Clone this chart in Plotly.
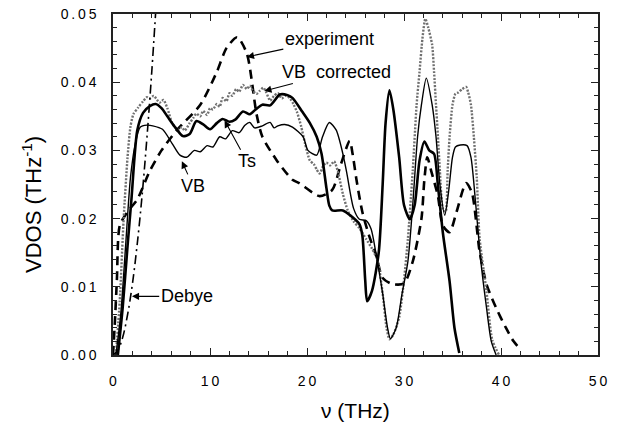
import plotly.graph_objects as go

# ---- data -------------------------------------------------------------
exp_x = [0, 0.2, 0.4, 0.7, 1.5, 2.5, 3.8, 5.0, 6.6, 9.0, 10.7, 11.7, 12.8, 13.8,
         14.8, 15.4, 16.9, 18.5, 19.2, 21.3, 22.6, 23.5, 24.4, 24.7, 25.1, 25.7,
         26.4, 27.1, 27.8, 28.8, 30.0, 30.9, 31.8, 32.1, 32.4, 32.8, 33.5, 34.0,
         34.7, 35.4, 36.4, 37.0, 37.8, 38.5, 39.5, 40.5, 41.3, 42.1]
exp_y = [0, 0.005, 0.011, 0.019, 0.021, 0.0228, 0.027, 0.030, 0.033, 0.0367,
         0.0415, 0.045, 0.0466, 0.0442, 0.0353, 0.032, 0.0285, 0.0257, 0.0252,
         0.0233, 0.0242, 0.028, 0.0314, 0.0295, 0.0257, 0.021, 0.0175, 0.0147,
         0.0113, 0.0104, 0.0105, 0.0137, 0.020, 0.0257, 0.029, 0.027, 0.0233,
         0.019, 0.018, 0.0209, 0.0252, 0.0238, 0.0151, 0.0104, 0.0069, 0.004,
         0.002, 0.0007]

ts_x = [0.5, 1.0, 1.5, 1.9, 2.5, 3.1, 3.8, 4.4, 5.0, 5.6, 6.4, 7.2, 7.9, 8.6,
        9.3, 10.0, 10.7, 11.3, 12.0, 12.6, 13.4, 14.1, 14.7, 15.4, 16.2, 17.2,
        18.0, 18.5, 19.5, 20.3, 21.0, 21.5, 22.0, 22.3, 22.6, 23.7, 24.7, 25.4,
        25.7, 26.0, 26.2, 26.7, 27.4, 27.8, 28.1, 28.5, 28.9, 29.5, 30.0, 30.6,
        31.1, 31.6, 32.1, 32.6, 33.1, 33.5, 34.0, 34.7, 35.2, 35.7]
ts_y = [0, 0.007, 0.016, 0.0228, 0.0329, 0.0355, 0.0365, 0.0368, 0.0362,
        0.035, 0.0334, 0.0321, 0.0324, 0.0343, 0.0338, 0.0331, 0.034, 0.0346,
        0.0342, 0.0345, 0.0357, 0.0353, 0.036, 0.0367, 0.0366, 0.0382, 0.0381,
        0.0377, 0.0357, 0.034, 0.032, 0.0295, 0.0245, 0.0219, 0.0212, 0.0212,
        0.0202, 0.0192, 0.0176, 0.011, 0.0079, 0.0094, 0.0151, 0.025, 0.034,
        0.0388, 0.036, 0.029, 0.022, 0.0199, 0.022, 0.0285, 0.0313, 0.030,
        0.0295, 0.0248, 0.018, 0.0108, 0.004, 0.0003]

vb_x = [0.3, 0.8, 1.3, 1.8, 2.3, 2.8, 3.5, 4.1, 5.1, 6.1, 6.9, 7.6, 8.4, 9.0,
        9.7, 10.3, 11.0, 11.6, 12.3, 13.0, 13.6, 14.1, 14.6, 15.4, 16.2, 16.6,
        17.0, 17.7, 18.5, 19.6, 20.1, 21.0, 21.6, 22.3, 23.0, 23.7, 24.1, 24.8,
        25.4, 26.1, 26.6, 27.1, 27.8, 28.3, 28.6, 29.2, 29.8, 30.4, 30.9, 31.4,
        31.8, 32.3, 32.9, 33.3, 33.7, 34.2, 34.6, 35.0, 35.3, 35.8, 36.5, 36.9,
        37.4, 37.9, 38.5, 39.0, 39.5]
vb_y = [0, 0.006, 0.016, 0.026, 0.031, 0.0334, 0.0337, 0.0336, 0.0331, 0.031,
        0.0293, 0.029, 0.030, 0.0298, 0.0307, 0.0305, 0.032, 0.0317, 0.0329,
        0.0326, 0.0337, 0.0341, 0.0333, 0.0336, 0.0341, 0.0333, 0.0336, 0.0338,
        0.0334, 0.032, 0.030, 0.0293, 0.032, 0.0341, 0.033, 0.0295, 0.0267,
        0.0215, 0.0199, 0.0197, 0.0185, 0.015, 0.009, 0.004, 0.0024, 0.004,
        0.009, 0.0137, 0.022, 0.032, 0.0367, 0.0406, 0.0367, 0.032, 0.025,
        0.0205, 0.024, 0.029, 0.0305, 0.0308, 0.0307, 0.029, 0.022, 0.014,
        0.007, 0.002, 0]

vbc_x = [0.3, 0.7, 1.1, 1.5, 1.8, 2.1, 2.6, 3.1, 3.5, 3.8, 4.2, 4.8, 5.2, 5.6,
         6.1, 6.7, 7.1, 7.4, 7.9, 8.3, 8.6, 9.0, 9.3, 9.7, 10.0, 10.3, 10.7,
         11.0, 11.3, 11.7, 12.0, 12.3, 12.7, 13.0, 13.4, 13.8, 14.1, 14.4, 14.8,
         15.1, 15.5, 15.8, 16.2, 16.6, 17.0, 17.4, 17.8, 18.2, 18.6, 19.0, 19.4,
         19.8, 20.3, 20.7, 21.0, 21.3, 21.7, 22.0, 22.4, 22.8, 23.2, 23.7, 24.2,
         24.8, 25.4, 26.1, 26.7, 27.3, 27.8, 28.2, 28.5, 28.9, 29.5, 30.0, 30.4,
         30.9, 31.3, 31.6, 31.9, 32.2, 32.5, 32.9, 33.1, 33.3, 33.5, 33.7, 34.0,
         34.3, 34.5, 34.7, 35.0, 35.3, 35.6, 36.0, 36.4, 36.6, 36.9, 37.2, 37.5,
         37.8, 38.5, 39.1, 39.8]
vbc_y = [0, 0.008, 0.020, 0.029, 0.0335, 0.0353, 0.0363, 0.0372, 0.0378,
         0.0376, 0.0380, 0.0370, 0.0374, 0.0362, 0.0340, 0.0330, 0.0334, 0.0329,
         0.0340, 0.0348, 0.0354, 0.0350, 0.0358, 0.0352, 0.0362, 0.0360, 0.0368,
         0.0364, 0.0377, 0.0372, 0.0384, 0.0380, 0.0390, 0.0386, 0.0396, 0.0390,
         0.0395, 0.0388, 0.0383, 0.0387, 0.0392, 0.0385, 0.0373, 0.0380, 0.0384,
         0.0376, 0.0380, 0.0377, 0.0368, 0.0355, 0.0335, 0.031, 0.0285, 0.0280,
         0.0272, 0.0266, 0.0278, 0.0282, 0.0278, 0.0284, 0.0268, 0.0236, 0.0212,
         0.0196, 0.0186, 0.0170, 0.0156, 0.0138, 0.0090, 0.0040, 0.0023, 0.0030,
         0.0055, 0.0110, 0.0170, 0.027, 0.0367, 0.0415, 0.0464, 0.0493, 0.0480,
         0.0455, 0.0415, 0.0367, 0.032, 0.027, 0.0215, 0.0210, 0.027, 0.032,
         0.0367, 0.0383, 0.0385, 0.0390, 0.0393, 0.0386, 0.0367, 0.032, 0.026,
         0.0170, 0.0094, 0.0022, 0.0]

debye_x = [0, 0.5, 1.0, 1.5, 2.0, 2.5, 3.0, 3.5, 4.0, 4.4]
debye_y = [0, 0.0007, 0.0026, 0.0059, 0.0104, 0.0163, 0.0234, 0.0319, 0.0416, 0.0503]

x_tick_vals = [0, 10, 20, 30, 40, 50]
x_tick_text = ["0", "10", "20", "30", "40", "50"]
y_tick_vals = [0, 0.01, 0.02, 0.03, 0.04, 0.05]
y_tick_text = ["0.00", "0.01", "0.02", "0.03", "0.04", "0.05"]

FONT = "Liberation Sans, Arial, sans-serif"


def spaced(label):
    """Open up tick labels a little, old-plotter style."""
    return "\u2009".join(label)


fig = go.Figure()

# measured spectrum
fig.add_trace(go.Scatter(x=exp_x, y=exp_y, mode="lines", name="experiment",
                         line=dict(color="black", width=2.6, dash="9px,6px",
                                   shape="spline", smoothing=0.7)))
# corrected VB spectrum (grey dots)
fig.add_trace(go.Scatter(x=vbc_x, y=vbc_y, mode="lines", name="VB corrected",
                         line=dict(color="#707070", width=2.4, dash="2px,1.5px",
                                   shape="spline", smoothing=0.6)))
# Ts model
fig.add_trace(go.Scatter(x=ts_x, y=ts_y, mode="lines", name="Ts",
                         line=dict(color="black", width=2.6,
                                   shape="spline", smoothing=0.7)))
# VB model
fig.add_trace(go.Scatter(x=vb_x, y=vb_y, mode="lines", name="VB",
                         line=dict(color="black", width=1.4,
                                   shape="spline", smoothing=0.7)))
# Debye law
fig.add_trace(go.Scatter(x=debye_x, y=debye_y, mode="lines", name="Debye",
                         line=dict(color="black", width=1.6, dash="9px,4px,2px,4px",
                                   shape="spline")))

# curve labels: text centred at (tx, ty), arrow pointing at (hx, hy)
labels = [
    ("experiment", (13.8, 0.0437), (22.3, 0.0463)),
    ("VB  corrected", (15.6, 0.0387), (23.0, 0.0415)),
    ("Ts", (11.5, 0.0344), (13.8, 0.0284)),
    ("VB", (7.1, 0.0284), (8.25, 0.0248)),
    ("Debye", (1.95, 0.0086), (7.6, 0.0086)),
]
for txt, (hx, hy), (tx, ty) in labels:
    fig.add_annotation(x=hx, y=hy, ax=tx, ay=ty, xref="x", yref="y",
                       axref="x", ayref="y", text=txt, showarrow=True,
                       arrowhead=2, arrowsize=1.3, arrowwidth=1.1,
                       arrowcolor="black",
                       font=dict(family=FONT, size=18, color="black"))

# axis titles
fig.add_annotation(x=-0.167, y=0.44, xref="paper", yref="paper",
                   xanchor="center", yanchor="middle",
                   text="VDOS (THz<sup>-1</sup>)", showarrow=False, textangle=-90,
                   font=dict(family=FONT, size=22, color="black"))
fig.add_annotation(x=0.501, y=-0.163, xref="paper", yref="paper",
                   xanchor="center", yanchor="middle",
                   text="\u03bd (THz)", showarrow=False,
                   font=dict(family=FONT, size=21, color="black"))

axis_common = dict(showgrid=False, zeroline=False, showline=True,
                   linecolor="#222", linewidth=1.5, mirror="allticks",
                   ticks="inside", ticklen=7, tickwidth=1.2, tickcolor="#222",
                   ticklabeloverflow="allow",
                   tickfont=dict(family=FONT, size=14, color="black"))

fig.update_layout(
    width=630, height=430,
    margin=dict(l=113, r=32, t=6, b=75),
    paper_bgcolor="white", plot_bgcolor="white",
    showlegend=False,
    xaxis=dict(range=[0, 50], tickvals=x_tick_vals,
               ticktext=[spaced(t) for t in x_tick_text],
               ticklabelstandoff=12,
               minor=dict(dtick=2, ticklen=4, ticks="inside", tickcolor="#222"),
               **axis_common),
    yaxis=dict(range=[0, 0.0500001], tickvals=y_tick_vals,
               ticktext=[spaced(t) for t in y_tick_text],
               ticklabelstandoff=12,
               minor=dict(dtick=0.002, ticklen=4, ticks="inside", tickcolor="#222"),
               **axis_common),
)

fig.write_html("out.html")
